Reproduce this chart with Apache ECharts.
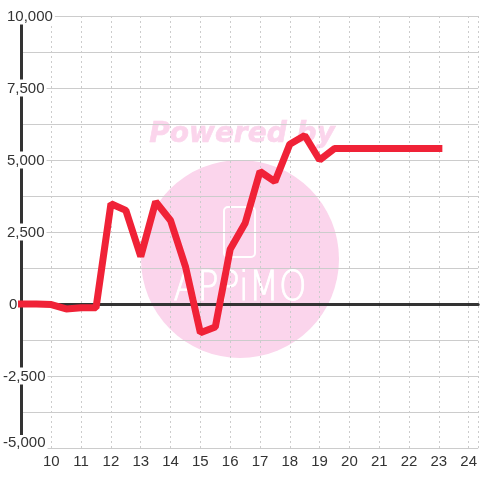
<!DOCTYPE html>
<html>
<head>
<meta charset="utf-8">
<style>
  html, body { margin: 0; padding: 0; background: #fff; }
  #chart { width: 480px; height: 480px; }
</style>
<script src="https://cdn.jsdelivr.net/npm/echarts@6/dist/echarts.min.js"></script>
</head>
<body>
<div id="chart"></div>
<script>
const hours = [9, 9.5, 10, 10.5, 11, 11.5, 12, 12.5, 13, 13.5, 14, 14.5, 15, 15.5, 16, 16.5, 17, 17.5, 18, 18.5, 19, 19.5, 20, 20.5, 21, 21.5, 22, 22.5, 23];
const values = [0, 0, -20, -170, -130, -130, 3480, 3250, 1650, 3550, 2900, 1300, -1000, -800, 1900, 2800, 4600, 4250, 5550, 5850, 5000, 5400, 5400, 5400, 5400, 5400, 5400, 5400, 5400];

const chart = echarts.init(document.getElementById('chart'));
const font = '"Liberation Sans", Arial, sans-serif';
const labelBase = { color: '#333', fontFamily: font, fontSize: 15, backgroundColor: '#fff' };
const xRange = { type: 'value', min: 9, max: 24.32, interval: 1, position: 'bottom' };

const option = {
  animation: false,
  backgroundColor: '#fff',
  grid: { left: 20.5, right: 0, top: 16, bottom: 32 },
  xAxis: [
    {
      // vertical dashed grid
      ...xRange, z: 0,
      axisLine: { show: false },
      axisTick: { show: false },
      axisLabel: { show: false },
      splitLine: { show: true, lineStyle: { color: '#ccc', type: [2, 3], width: 1 } }
    },
    {
      // zero line
      ...xRange, z: 1.5,
      axisLine: { onZero: true, onZeroAxisIndex: 0, lineStyle: { color: '#333', width: 3 } },
      axisTick: { show: false },
      axisLabel: { show: false },
      splitLine: { show: false }
    },
    {
      // hour labels, above the y label boxes
      ...xRange, z: 3,
      axisLine: { show: false, onZero: false },
      axisTick: { show: false },
      axisLabel: {
        color: '#333', fontFamily: font, fontSize: 15, margin: 6,
        showMaxLabel: false,
        formatter: v => (v === 9 ? '' : String(v))
      },
      splitLine: { show: false }
    }
  ],
  yAxis: {
    type: 'value', min: -5000, max: 10000, interval: 2500, z: 1,
    axisLine: { show: true, onZero: false, lineStyle: { color: '#333', width: 3 } },
    axisTick: { show: false },
    minorTick: { show: false, splitNumber: 2 },
    minorSplitLine: { show: true, lineStyle: { color: '#ccc', width: 1 } },
    splitLine: { show: true, lineStyle: { color: '#ccc', width: 1 } },
    axisLabel: {
      margin: 18.5, align: 'left',
      formatter: v => {
        const s = v.toLocaleString('en-US');
        if (v === -5000) return '{low|' + s + '}';
        if (v < 0) return '{neg|' + s + '}';
        if (v === 0) return '{zero|' + s + '}';
        return '{pos|' + s + '}';
      },
      rich: {
        pos: { ...labelBase, padding: [2, 2, 0, 4] },
        zero: { ...labelBase, padding: [2, 2, 0, 6] },
        neg: { ...labelBase, padding: [2, 2, 0, 0] },
        low: { ...labelBase, padding: [0, 2, 11, 0] }
      }
    }
  },
  graphic: [
    { type: 'circle', z: -1, shape: { cx: 240, cy: 259, r: 99 }, style: { fill: '#fbd5ec' } },
    { type: 'rect', z: -1, shape: { x: 224, y: 207, width: 31, height: 50, r: 4 }, style: { fill: 'none', stroke: '#fff', lineWidth: 2 } },
    { type: 'text', z: -1, x: 242, y: 135, style: { text: 'Powered by', fill: '#fbd5ec', stroke: '#fbd5ec', lineWidth: 0.6, font: 'italic bold 28px "DejaVu Sans"', align: 'center', verticalAlign: 'middle' } },
    { type: 'text', z: -1, x: 240, y: 290, scaleY: 1.15, style: { text: 'APPiMO', fill: '#fff', stroke: '#fff', lineWidth: 0.8, font: '200 35px "DejaVu Sans"', align: 'center', verticalAlign: 'middle' } }
  ],
  series: [{
    type: 'line',
    xAxisIndex: 0,
    z: 2,
    data: hours.map((h, i) => [h, values[i]]),
    showSymbol: false,
    clip: false,
    lineStyle: { color: '#f02237', width: 7, join: 'bevel', cap: 'square' }
  }]
};
chart.setOption(option);
</script>
</body>
</html>
